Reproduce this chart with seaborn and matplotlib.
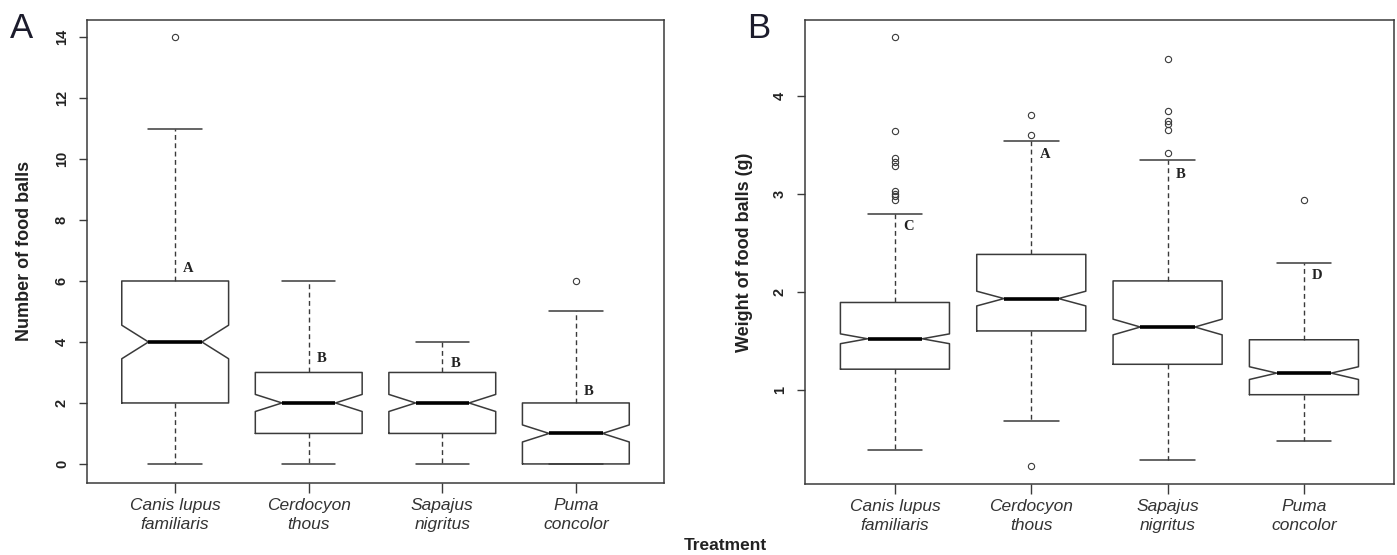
"""
Notched boxplots of food ball number and weight per treatment (species).
"""

import matplotlib
matplotlib.use("Agg")
import matplotlib.pyplot as plt
import seaborn as sns

# Categories
species = ["Canis lupus\nfamiliaris", "Cerdocyon\nthous", "Sapajus\nnigritus", "Puma\nconcolor"]

# Panel A - number of food balls (summary stats)
count_lo = [0, 0, 0, 0]
count_q1 = [2, 1, 1, 0]
count_med = [4, 2, 2, 1]
count_q3 = [6, 3, 3, 2]
count_hi = [11, 6, 4, 5]
count_notch = [0.55, 0.28, 0.28, 0.28]
count_fliers = [[14], [], [], [6]]
count_letters = ["A", "B", "B", "B"]
count_letter_y = [6.4, 3.45, 3.3, 2.38]

# Panel B - weight of food balls (g)
weight_lo = [0.39, 0.68, 0.28, 0.48]
weight_q1 = [1.21, 1.60, 1.26, 0.95]
weight_med = [1.52, 1.93, 1.64, 1.17]
weight_q3 = [1.89, 2.38, 2.11, 1.51]
weight_hi = [2.79, 3.54, 3.34, 2.29]
weight_notch = [0.05, 0.075, 0.08, 0.065]
weight_fliers = [
    [4.60, 3.64, 3.36, 3.32, 3.28, 3.03, 3.00, 2.98, 2.93],
    [3.80, 3.60, 0.22],
    [4.37, 3.84, 3.74, 3.71, 3.65, 3.41],
    [2.93],
]
weight_letters = ["C", "A", "B", "D"]
weight_letter_y = [2.66, 3.40, 3.19, 2.17]

LINE = "#3a3a3a"


def make_stats(lo, q1, med, q3, hi, notch, fliers):
    stats = []
    for i in range(len(med)):
        stats.append({
            "whislo": lo[i], "q1": q1[i], "med": med[i], "q3": q3[i],
            "whishi": hi[i], "cilo": med[i] - notch[i], "cihi": med[i] + notch[i],
            "fliers": fliers[i],
        })
    return stats


def draw_panel(ax, stats, letters, letter_y, ylim, yticks, ylabel, label_x):
    pos = list(range(1, len(stats) + 1))
    ax.bxp(
        stats, positions=pos, widths=0.8, capwidths=0.4, shownotches=True,
        showfliers=True,
        boxprops=dict(color=LINE, linewidth=1.1),
        medianprops=dict(color="black", linewidth=2.6),
        whiskerprops=dict(color=LINE, linewidth=1.0, linestyle=(0, (3.5, 2.5))),
        capprops=dict(color=LINE, linewidth=1.1),
        flierprops=dict(marker="o", markerfacecolor="none", markeredgecolor=LINE,
                        markersize=4.5, markeredgewidth=0.8),
    )
    for p, letter, y in zip(pos, letters, letter_y):
        ax.text(p + 0.06, y, letter, ha="left", va="center", fontsize=10.5,
                fontweight="bold", family="Liberation Serif", color="#222222")

    ax.set_xlim(0.34, 4.66)
    ax.set_ylim(*ylim)
    ax.set_yticks(yticks)
    ax.set_yticklabels([str(t) for t in yticks], rotation=90, va="center",
                       fontweight="bold", fontsize=10.5, color="#222222")
    ax.set_xticks(pos)
    ax.set_xticklabels(species, fontstyle="italic", fontsize=12.5, color="#333333",
                       linespacing=1.35)
    ax.tick_params(axis="y", length=6, width=1, color=LINE, pad=7, left=True)
    ax.tick_params(axis="x", length=7, width=1, color=LINE, pad=4, bottom=True)
    for sp in ax.spines.values():
        sp.set_visible(True)
        sp.set_color(LINE)
        sp.set_linewidth(1.1)
    ax.set_ylabel(ylabel, fontsize=13, fontweight="bold", color="#222222")
    ax.yaxis.set_label_coords(label_x, 0.5)
    ax.grid(False)


def main():
    sns.set_theme(style="white")
    plt.rcParams["font.family"] = ["Liberation Sans", "DejaVu Sans"]

    fig = plt.figure(figsize=(13.97, 5.55), dpi=100)
    ax_a = fig.add_axes([0.0623, 0.130, 0.4130, 0.834])
    ax_b = fig.add_axes([0.5762, 0.128, 0.4216, 0.836])

    stats_a = make_stats(count_lo, count_q1, count_med, count_q3, count_hi,
                         count_notch, count_fliers)
    stats_b = make_stats(weight_lo, weight_q1, weight_med, weight_q3, weight_hi,
                         weight_notch, weight_fliers)

    draw_panel(ax_a, stats_a, count_letters, count_letter_y, (-0.62, 14.56),
               [0, 2, 4, 6, 8, 10, 12, 14], "Number of food balls", -0.094)
    draw_panel(ax_b, stats_b, weight_letters, weight_letter_y, (0.04, 4.77),
               [1, 2, 3, 4], "Weight of food balls (g)", -0.088)

    fig.text(0.007, 0.978, "A", fontsize=25, color="#1c1c2c", va="top", ha="left")
    fig.text(0.535, 0.978, "B", fontsize=25, color="#1c1c2c", va="top", ha="left")
    fig.text(0.519, 0.017, "Treatment", fontsize=12.5, fontweight="bold",
             color="#222222", ha="center", va="center")

    fig.savefig("out.png", dpi=100)


if __name__ == "__main__":
    main()
